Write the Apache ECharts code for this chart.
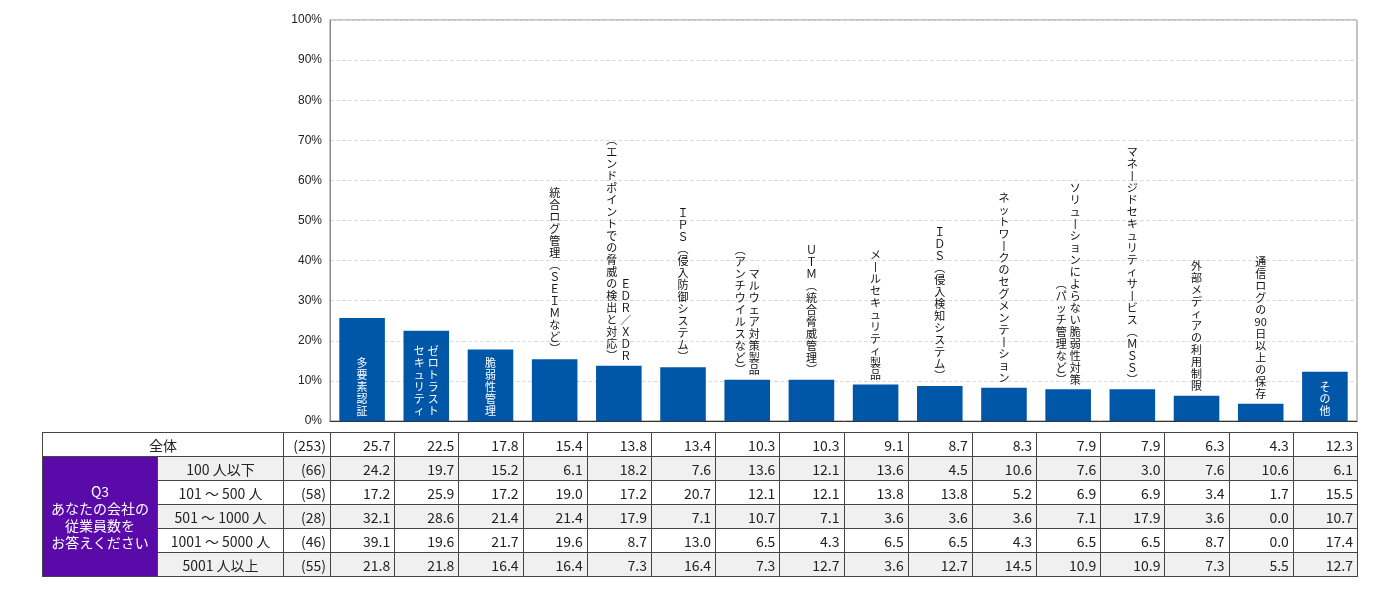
<!DOCTYPE html>
<html><head><meta charset="utf-8">
<script src="https://cdn.jsdelivr.net/npm/echarts@6/dist/echarts.min.js"></script>
<style>
body{margin:0;background:#fff;font-family:"Noto Sans CJK JP",sans-serif;}
#chart{position:absolute;left:0;top:0;width:1400px;height:600px;}
#tbl{position:absolute;left:42px;top:432px;border-collapse:collapse;table-layout:fixed;font-size:14px;color:#222;}
#tbl td{border:1px solid #444;height:23px;padding:0 4px;text-align:right;white-space:nowrap;}
#tbl td.c{text-align:center;}
#tbl tr.g td{background:#f0f0f0;}
#tbl tr td.q{background:#5a0aa8;color:#fff;text-align:center;line-height:17px;}
</style></head><body>
<div id="chart"></div>
<table id="tbl"></table>
<script>
// 各項目ラベル（右の列から順に）
var categories = [
  ['多要素認証'],
  ['ゼロトラスト', 'セキュリティ'],
  ['脆弱性管理'],
  ['統合ログ管理（ＳＥＩＭなど）'],
  ['ＥＤＲ／ＸＤＲ', '（エンドポイントでの脅威の検出と対応）'],
  ['ＩＰＳ（侵入防御システム）'],
  ['マルウェア対策製品', '（アンチウイルスなど）'],
  ['ＵＴＭ（統合脅威管理）'],
  ['メールセキュリティ製品'],
  ['ＩＤＳ（侵入検知システム）'],
  ['ネットワークのセグメンテーション'],
  ['ソリューションによらない脆弱性対策', '（パッチ管理など）'],
  ['マネージドセキュリティサービス（ＭＳＳ）'],
  ['外部メディアの利用制限'],
  ['通信ログの90日以上の保存'],
  ['その他']
];
var insideLabel = [true, true, true, false, false, false, false, false, false, false, false, false, false, false, false, true];
var totalValues = [25.7, 22.5, 17.8, 15.4, 13.8, 13.4, 10.3, 10.3, 9.1, 8.7, 8.3, 7.9, 7.9, 6.3, 4.3, 12.3];
var totalN = 253;
var groupTitle = 'Q3<br>あなたの会社の<br>従業員数を<br>お答えください';
var rowLabels = ['100 人以下', '101 ～ 500 人', '501 ～ 1000 人', '1001 ～ 5000 人', '5001 人以上'];
var rowN = [66, 58, 28, 46, 55];
var rowValues = [
  [24.2, 19.7, 15.2, 6.1, 18.2, 7.6, 13.6, 12.1, 13.6, 4.5, 10.6, 7.6, 3.0, 7.6, 10.6, 6.1],
  [17.2, 25.9, 17.2, 19.0, 17.2, 20.7, 12.1, 12.1, 13.8, 13.8, 5.2, 6.9, 6.9, 3.4, 1.7, 15.5],
  [32.1, 28.6, 21.4, 21.4, 17.9, 7.1, 10.7, 7.1, 3.6, 3.6, 3.6, 7.1, 17.9, 3.6, 0.0, 10.7],
  [39.1, 19.6, 21.7, 19.6, 8.7, 13.0, 6.5, 4.3, 6.5, 6.5, 4.3, 6.5, 6.5, 8.7, 0.0, 17.4],
  [21.8, 21.8, 16.4, 16.4, 7.3, 16.4, 7.3, 12.7, 3.6, 12.7, 14.5, 10.9, 10.9, 7.3, 5.5, 12.7]
];
var yTicks = [0, 10, 20, 30, 40, 50, 60, 70, 80, 90, 100];

// 縦書き用に1文字ずつ改行
function vert(s) {
  var map = {'（': '︵', '）': '︶', 'ー': '丨'};
  var toks = s.match(/[0-9]+|./g);
  return toks.map(function (t) { return map[t] || t; }).join('\n');
}

function labelFor(i, col) {
  var cols = categories[i];
  if (col >= cols.length) return {show: false};
  var inside = insideLabel[i];
  var off = cols.length === 2 ? (col === 0 ? 7 : -7) : 0;
  return {
    show: true,
    position: inside ? 'insideBottom' : 'top',
    distance: 4,
    offset: [off, 0],
    formatter: vert(cols[col]),
    color: inside ? '#fff' : '#111',
    fontSize: 11,
    lineHeight: 12,
    fontFamily: 'Noto Sans CJK JP'
  };
}

var s0 = totalValues.map(function (v, i) { return {value: v, label: labelFor(i, 0)}; });
var s1 = totalValues.map(function (v, i) { return {value: v, label: labelFor(i, 1)}; });

var chart = echarts.init(document.getElementById('chart'));
chart.setOption({
  animation: false,
  grid: {left: 330, right: 43, top: 20, bottom: 179, show: true, borderColor: '#888', borderWidth: 1},
  xAxis: {
    type: 'category',
    data: categories.map(function (c) { return c.join(''); }),
    axisLabel: {show: false},
    axisTick: {show: false},
    axisLine: {lineStyle: {color: '#333'}}
  },
  yAxis: {
    type: 'value', min: yTicks[0], max: yTicks[yTicks.length - 1], interval: 10,
    axisLabel: {formatter: '{value}%', color: '#222', fontSize: 12},
    axisTick: {show: false},
    axisLine: {show: true, lineStyle: {color: '#888'}},
    splitLine: {lineStyle: {color: '#ddd', type: 'dashed'}}
  },
  series: [
    {type: 'bar', data: s0, barWidth: '71%', barGap: '-100%', itemStyle: {color: '#0057a8'}, z: 3},
    {type: 'bar', data: s1, barWidth: '71%', barGap: '-100%', itemStyle: {color: 'rgba(0,0,0,0)'}, z: 4}
  ]
});

// 表
var colW = (1357 - 330) / categories.length;
var html = '<colgroup><col style="width:115px"><col style="width:126px"><col style="width:47px">';
categories.forEach(function () { html += '<col style="width:' + colW + 'px">'; });
html += '</colgroup>';
html += '<tr><td class="c" colspan="2">全体</td><td>(' + totalN + ')</td>' +
  totalValues.map(function (v) { return '<td>' + v.toFixed(1) + '</td>'; }).join('') + '</tr>';
rowLabels.forEach(function (lab, r) {
  html += '<tr class="' + (r % 2 === 0 ? 'g' : '') + '">';
  if (r === 0) html += '<td class="q" rowspan="5">' + groupTitle + '</td>';
  html += '<td class="c">' + lab + '</td><td>(' + rowN[r] + ')</td>' +
    rowValues[r].map(function (v) { return '<td>' + v.toFixed(1) + '</td>'; }).join('') + '</tr>';
});
var tbl = document.getElementById('tbl');
tbl.innerHTML = html;
tbl.style.width = (1357 - 42) + 'px';
</script>
</body></html>
